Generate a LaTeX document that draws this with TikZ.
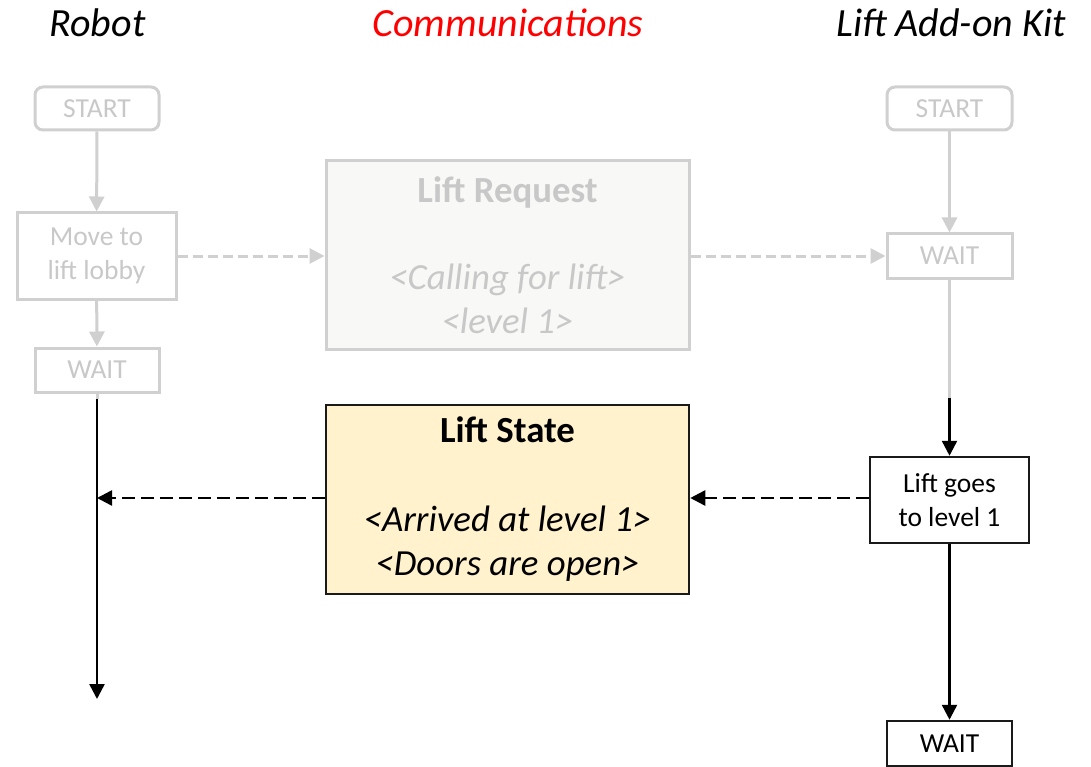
\documentclass[tikz,border=0pt]{standalone}
\usepackage{fontspec}
\setmainfont{Carlito}
\usetikzlibrary{arrows.meta}
\definecolor{faint}{HTML}{D0D0D0}
\definecolor{fainttext}{HTML}{C8C8C8}
\definecolor{reqfill}{HTML}{F8F9F6}
\definecolor{statefill}{HTML}{FFF2CC}
\definecolor{edge}{HTML}{1A1A1A}
\tikzset{
  x={(1pt,0)}, y={(0,-1pt)},
  lane/.style={font=\fontsize{40}{48}\selectfont\itshape, anchor=base},
  small/.style={font=\fontsize{27.5}{34}\selectfont, align=center, inner sep=0pt},
  mute/.style={small, draw=faint, line width=3pt, text=fainttext},
  live/.style={small, draw=edge, line width=2.5pt, text=black},
  msg/.style={font=\fontsize{36.8}{44}\selectfont, align=center, inner sep=0pt,
    minimum width=363pt, minimum height=188pt},
  fadedarrow/.style={draw=faint, line width=3pt,
    -{Triangle[length=15pt,width=15pt]}},
  fadedline/.style={draw=faint, line width=3pt},
  solidarrow/.style={draw=black, line width=2.5pt,
    -{Triangle[length=15pt,width=15pt]}},
  fadeddash/.style={fadedarrow, dash pattern=on 10pt off 5pt},
  soliddash/.style={solidarrow, dash pattern=on 13pt off 6pt},
}
\begin{document}
\begin{tikzpicture}
\useasboundingbox (0,0) rectangle (1091,767);

% lane titles
\node[lane] (tRobot) at (97.5,37) {Robot};
\node[lane, text={rgb,255:red,255;green,0;blue,0}] (tComm) at (508,37) {Communications};
\node[lane] (tKit) at (951,37) {Lift Add-on Kit};

% robot lane
\node[mute, rounded corners=8pt, minimum width=124pt, minimum height=43pt] (rStart) at (97,108.5) {START};
\node[mute, minimum width=159pt, minimum height=86pt] (rMove) at (96.5,256) {Move to\\lift lobby};
\node[mute, minimum width=124pt, minimum height=44pt] (rWait) at (97,370) {WAIT};
\coordinate (rJoin) at (97,399);
\coordinate (rEnd) at (97,699);

% messages
\node[msg, draw=faint, line width=3pt, fill=reqfill, text=fainttext] (req) at (507.5,255)
  {{\bfseries Lift Request}\\[43pt]{\itshape <Calling for lift>}\\{\itshape <level 1>}};
\node[msg, draw=edge, line width=2.5pt, fill=statefill, minimum height=189pt] (state) at (507.5,499.5)
  {{\bfseries Lift State}\\[45pt]{\itshape <Arrived at level 1>}\\{\itshape <Doors are open>}};

% lift kit lane
\node[mute, rounded corners=8pt, minimum width=125pt, minimum height=43pt] (kStart) at (949.5,108.5) {START};
\node[mute, minimum width=125pt, minimum height=44pt] (kWait) at (949.5,256) {WAIT};
\coordinate (kJoin) at (949.5,398);
\node[live, minimum width=159pt, minimum height=86pt] (kGoes) at (949.5,500) {Lift goes\\to level 1};
\node[live, minimum width=125pt, minimum height=45pt] (kWait2) at (949.5,743.5) {WAIT};

% robot flow
\draw[fadedarrow] (rStart) -- (rMove);
\draw[fadedarrow] (rMove) -- (rWait);
\draw[fadedline] (rWait.south) -- (rJoin);
\draw[solidarrow] (rJoin) -- (rEnd);

% kit flow
\draw[fadedarrow] (kStart) -- (kWait);
\draw[fadedline] (kWait.south) -- (kJoin);
\draw[solidarrow] (kJoin) -- (kGoes.north);
\draw[solidarrow] (kGoes) -- (kWait2);

% message exchange
\draw[fadeddash] (rMove.east) -- (req.west |- rMove.east);
\draw[fadeddash] (req.east |- kWait.west) -- (kWait.west);
\draw[soliddash] (kGoes.west |- 0,498) -- (state.east |- 0,498);
\draw[soliddash] (state.west |- 0,498) -- (rJoin |- 0,498);
\end{tikzpicture}
\end{document}
